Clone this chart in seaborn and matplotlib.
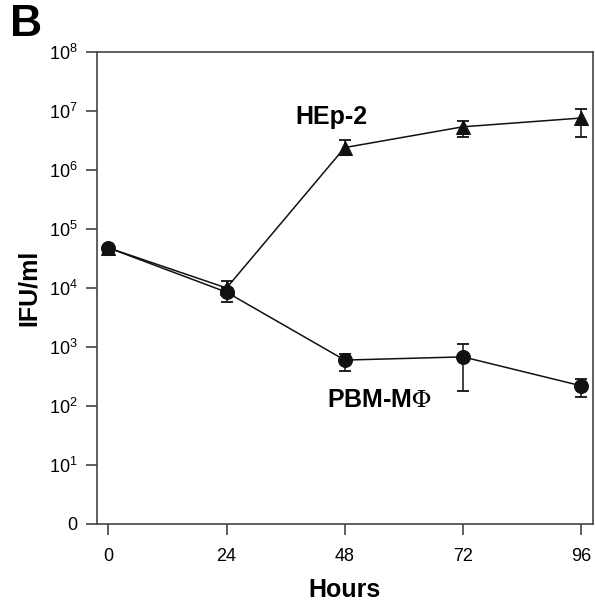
import matplotlib
matplotlib.use("Agg")
import matplotlib.pyplot as plt
import seaborn as sns
import numpy as np
import pandas as pd

hours = [0, 24, 48, 72, 96]
hep2 = [4.8e4, 1.0e4, 2.4e6, 5.4e6, 7.6e6]
hep2_lo = [4.8e4, 9.0e3, 1.9e6, 3.6e6, 3.6e6]
hep2_hi = [4.8e4, 1.3e4, 3.2e6, 6.8e6, 1.07e7]
pbm = [4.8e4, 8.5e3, 600, 680, 220]
pbm_lo = [4.8e4, 5.8e3, 390, 178, 140]
pbm_hi = [4.8e4, 1.0e4, 760, 1120, 290]
ytick_vals = [1, 1e1, 1e2, 1e3, 1e4, 1e5, 1e6, 1e7, 1e8]
ytick_labels = ["0"] + [r"$\mathregular{10^{%d}}$" % i for i in range(1, 9)]
xtick_vals = [0, 24, 48, 72, 96]

sns.set_theme(style="white")
plt.rcParams["font.family"] = ["Liberation Sans", "DejaVu Sans"]
plt.rcParams["mathtext.fontset"] = "custom"
plt.rcParams["mathtext.rm"] = "Liberation Sans"
plt.rcParams["mathtext.it"] = "Liberation Sans:italic"
plt.rcParams["mathtext.bf"] = "Liberation Sans:bold"
plt.rcParams["text.color"] = "black"
plt.rcParams["axes.labelcolor"] = "black"

df = pd.DataFrame({
    "Hours": hours * 2,
    "IFU": hep2 + pbm,
    "series": ["HEp-2"] * 5 + ["PBM-MΦ"] * 5,
})

fig = plt.figure(figsize=(5.95, 6.02), dpi=100)
ax = fig.add_axes([0.163, 0.1296, 0.8336, 0.784])
ax.set_yscale("log")

ec = "#111111"
ax.errorbar(hours, hep2, yerr=[np.array(hep2) - np.array(hep2_lo), np.array(hep2_hi) - np.array(hep2)],
            fmt="none", ecolor=ec, elinewidth=1.1, capsize=4.5, capthick=1.3, zorder=2)
ax.errorbar(hours, pbm, yerr=[np.array(pbm) - np.array(pbm_lo), np.array(pbm_hi) - np.array(pbm)],
            fmt="none", ecolor=ec, elinewidth=1.1, capsize=4.5, capthick=1.3, zorder=2)

sns.lineplot(data=df, x="Hours", y="IFU", hue="series", style="series",
             markers={"HEp-2": "^", "PBM-MΦ": "o"}, dashes=False,
             palette={"HEp-2": ec, "PBM-MΦ": ec}, linewidth=1.1,
             markersize=10, markeredgecolor=ec, legend=False, ax=ax, zorder=3)

ax.set_xlim(-2.3, 98.4)
ax.set_ylim(1, 1e8)
ax.set_xticks(xtick_vals)
ax.set_xticklabels([str(v) for v in xtick_vals], fontsize=13)
ax.set_yticks(ytick_vals)
ax.set_yticklabels(ytick_labels, fontsize=13)
ax.yaxis.set_minor_locator(matplotlib.ticker.NullLocator())
ax.tick_params(axis="both", which="major", direction="out", length=8, width=1.1,
               color="#333333", labelcolor="black", bottom=True, left=True, pad=6)
ax.tick_params(axis="x", pad=9)
for s in ax.spines.values():
    s.set_color("#444444")
    s.set_linewidth(1.2)

ax.set_xlabel("Hours", fontsize=18, fontweight="bold", labelpad=10)
ax.set_ylabel("IFU/ml", fontsize=18, fontweight="bold", labelpad=6)

ax.text(45.2, 7.9e6, "HEp-2", fontsize=18, fontweight="bold", ha="center", va="center")
ax.text(55.0, 1.26e2, r"PBM-M$\Phi$", fontsize=18, fontweight="bold", ha="center", va="center",
        math_fontfamily="stix")

fig.text(0.016, 0.96, "B", fontsize=32, fontweight="bold", ha="left", va="center")

fig.savefig("out.png", dpi=100)
